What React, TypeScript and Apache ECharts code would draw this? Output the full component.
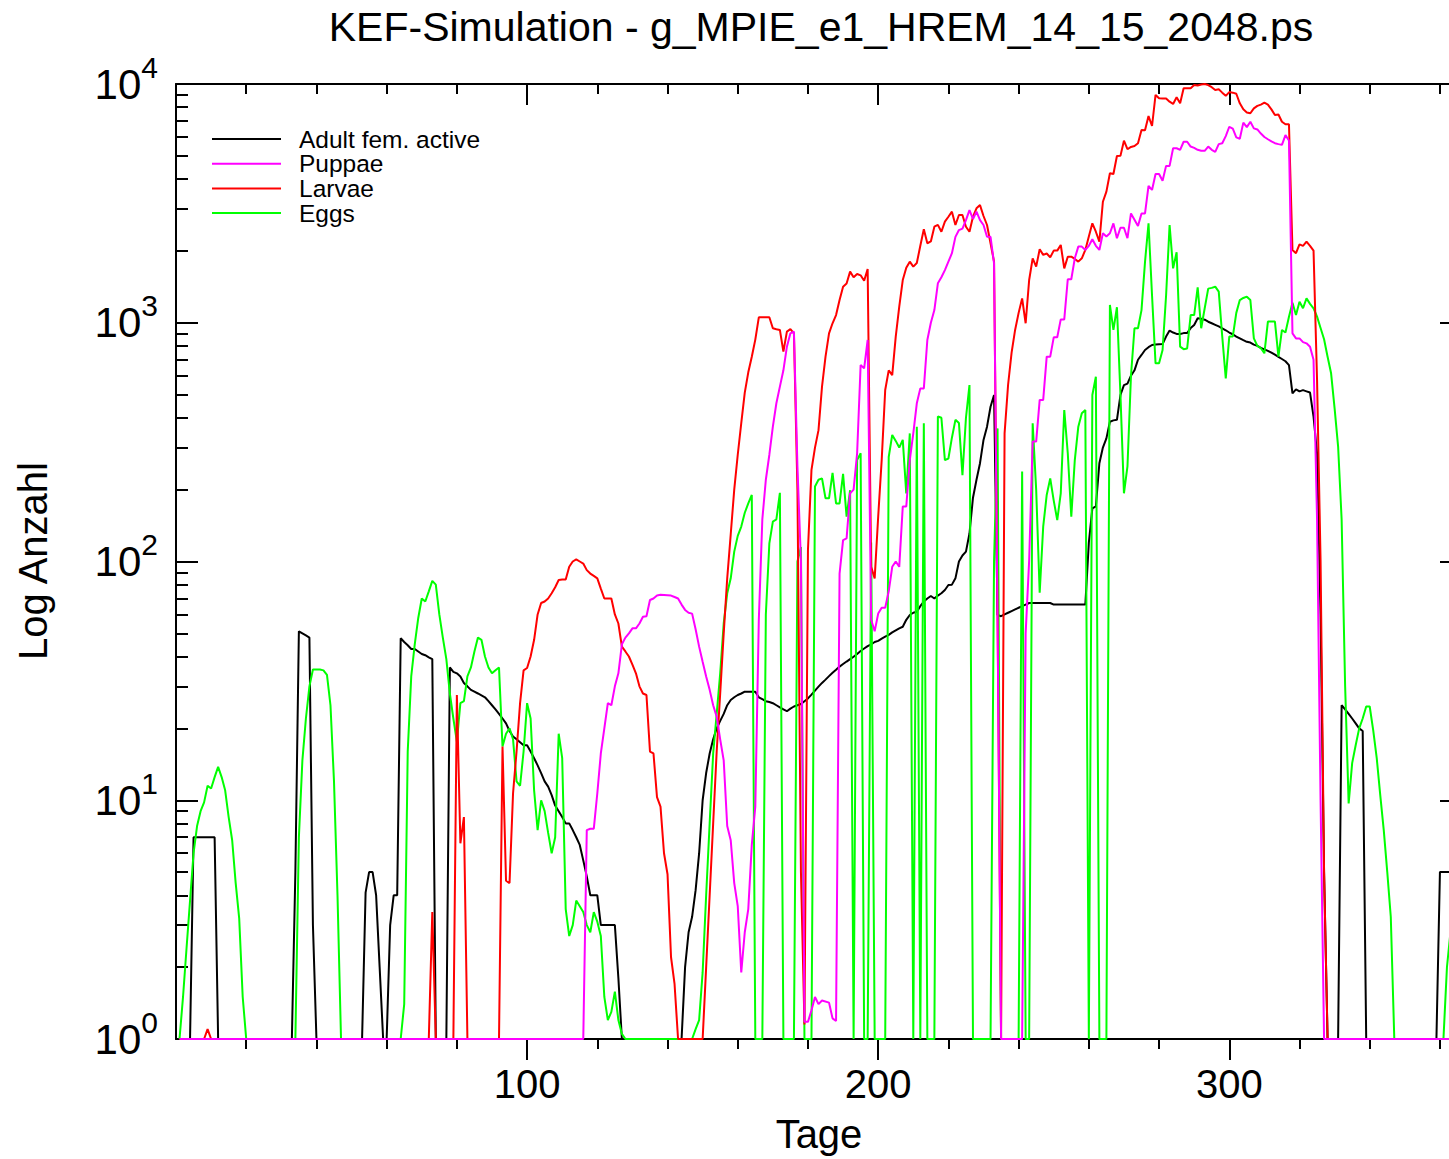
import React, { useEffect, useRef } from "react";
import * as echarts from "echarts";

const TITLE = "KEF-Simulation - g_MPIE_e1_HREM_14_15_2048.ps";
const X_AXIS_NAME = "Tage";
const Y_AXIS_NAME = "Log Anzahl";
const X_MIN = 0;
const X_MAX = 366;
const Y_MIN = 1;
const Y_MAX = 10000;
const X_MAJOR_TICKS = [100, 200, 300];
const X_MINOR_TICKS = [20, 40, 60, 80, 120, 140, 160, 180, 220, 240, 260, 280, 320, 340, 360];
const Y_MAJOR_TICKS = [1, 10, 100, 1000, 10000];
const Y_MINOR_TICKS = [
  2, 3, 4, 5, 6, 7, 8, 9,
  20, 30, 40, 50, 60, 70, 80, 90,
  200, 300, 400, 500, 600, 700, 800, 900,
  2000, 3000, 4000, 5000, 6000, 7000, 8000, 9000,
];

const SERIES_NAMES = ["Adult fem. active", "Puppae", "Larvae", "Eggs"];
const SERIES_COLORS: Record<string, string> = {
  "Adult fem. active": "#000000",
  Puppae: "#ff00ff",
  Larvae: "#ff0000",
  Eggs: "#00ff00",
};

// [day, count] ; count 1 = bottom of the log axis (no animals)
const adult: [number, number][] = [
  [1, 1], [4, 1], [5, 7], [11, 7], [12, 1], [33, 1], [34, 5], [35, 51], [36, 50], [37, 49], [38, 48], [39, 3], [40, 1],
  [53, 1], [54, 4.1], [55, 5], [56, 5], [57, 4], [58, 2], [59, 1], [60, 1], [61, 3], [62, 4], [63, 4], [64, 47.7],
  [65, 46], [66, 44.6], [67, 43], [68, 43], [69, 42], [70, 41], [71, 40.5], [72, 39.7], [73, 39], [74, 1], [77, 1],
  [78, 36], [79, 34.5], [80, 34], [81, 33], [82, 31], [83, 30], [84, 29], [85, 28.5], [86, 28], [87, 27.5], [88, 27],
  [89, 26], [90, 25], [91, 24], [92, 23], [93, 22], [94, 21], [95, 19.5], [96, 18.5], [97, 18], [98, 17.5], [99, 17],
  [100, 17], [101, 16], [102, 15], [103, 14], [104, 13], [105, 12], [106, 11.4], [107, 10.5], [108, 9.5], [109, 9],
  [110, 8.5], [111, 8], [112, 8], [113, 7.5], [114, 7], [115, 6.5], [116, 5.6], [117, 4.8], [118, 4], [120, 4], [121, 3],
  [125, 3], [126, 1.8], [127, 1], [144, 1], [145, 2], [146, 2.8], [147, 3.25], [148, 4.2], [149, 6], [150, 10], [151, 13],
  [152, 15.7], [153, 18], [154, 20], [155, 21.5], [156, 23], [157, 25], [158, 26.3], [159, 27], [160, 27.6], [161, 28],
  [162, 28.5], [165, 28.5], [166, 27], [167, 26.5], [168, 26], [169, 25.8], [170, 25.5], [171, 25], [172, 24.5], [173, 24],
  [174, 23.6], [175, 24.2], [176, 24.7], [177, 25], [178, 25.3], [179, 26], [180, 26.7], [181, 27.7], [182, 28.8],
  [183, 29.9], [184, 31], [185, 32], [186, 33.1], [187, 34.2], [188, 35.2], [189, 36.3], [190, 37.2], [191, 38.1], [192, 39],
  [193, 39.9], [194, 41], [195, 42.2], [196, 43.2], [197, 44.2], [198, 45], [199, 46], [200, 46.5], [201, 47.5], [202, 48.4],
  [203, 49.3], [204, 50.5], [205, 51.5], [206, 52.5], [207, 53.3], [208, 57], [209, 59.7], [210, 61], [211, 61.6], [212, 65],
  [213, 68], [214, 70], [215, 71.7], [216, 70], [217, 72], [218, 73.6], [219, 76], [220, 79.7], [221, 80], [222, 85],
  [223, 100], [224, 106], [225, 110], [226, 131], [227, 185], [228, 220], [229, 258], [230, 323], [231, 367], [232, 445],
  [233, 498], [234, 59.7], [235, 59], [236, 60], [237, 61], [238, 62], [239, 63], [240, 64], [241, 65], [242, 66], [243, 67],
  [249, 67], [250, 66], [259, 66], [260, 120], [261, 167], [262, 170], [263, 258], [264, 300], [265, 328], [266, 385],
  [267, 390], [268, 392], [269, 498], [270, 548], [271, 556], [272, 600], [273, 632], [274, 700], [275, 733], [276, 769],
  [277, 790], [278, 807], [279, 810], [281, 815], [282, 875], [283, 927], [284, 910], [285, 898], [286, 898], [287, 905],
  [288, 905], [289, 950], [290, 979], [291, 1045], [292, 1040], [293, 1030], [294, 1010], [295, 995], [296, 980], [297, 965],
  [298, 948], [299, 930], [300, 910], [301, 895], [302, 875], [303, 860], [304, 845], [305, 832], [306, 826], [307, 810],
  [308, 800], [309, 785], [310, 774], [311, 763], [312, 750], [313, 735], [314, 720], [315, 705], [316, 690], [317, 665],
  [318, 506], [319, 526], [320, 516], [321, 522], [322, 516], [323, 510], [324, 404], [325, 284], [326, 60], [327, 5],
  [328, 1], [331, 1], [332, 25], [333, 24], [334, 23], [335, 22], [336, 21], [337, 20], [338, 19.5], [339, 1], [359, 1],
  [360, 5], [363, 5],
];

const eggs: [number, number][] = [
  [1, 1], [2, 1.5], [3, 2.4], [4, 3.8], [5, 6], [6, 7.8], [7, 9], [8, 9.8], [9, 11.5], [10, 11.2], [11, 12.5], [12, 13.8],
  [13, 12.5], [14, 11], [15, 8.5], [16, 6.8], [17, 4.5], [18, 3.2], [19, 1.5], [20, 1], [34, 1], [35, 7], [36, 14.7],
  [37, 22], [38, 30], [39, 35.3], [41, 35.3], [42, 35], [43, 33.5], [44, 25], [45, 12], [46, 4], [47, 1], [64, 1],
  [65, 1.4], [66, 16], [67, 33], [68, 45], [69, 58], [70, 70], [71, 68], [72, 75], [73, 83], [74, 80], [75, 60], [76, 48],
  [77, 39], [78, 28], [79, 22], [80, 17.6], [81, 25.5], [82, 26], [83, 33], [84, 36], [85, 42], [86, 48], [87, 47],
  [88, 40], [89, 36], [90, 34], [91, 35], [92, 36], [93, 16.8], [94, 19], [95, 20], [96, 18], [97, 12], [98, 11.5],
  [99, 16], [100, 25.5], [101, 22], [102, 11], [103, 7.5], [104, 10], [105, 9], [106, 7.3], [107, 6], [108, 7], [109, 19],
  [110, 15], [111, 3.5], [112, 2.7], [113, 3], [114, 3.8], [115, 3.6], [116, 3.4], [117, 3], [118, 2.8], [119, 3.4],
  [120, 3.1], [121, 2.7], [122, 1.5], [123, 1.2], [124, 1.3], [125, 1.58], [126, 1.2], [127, 1.05], [128, 1], [147, 1],
  [148, 1.1], [149, 1.2], [150, 1.9], [151, 4], [152, 8], [153, 15.7], [154, 23], [155, 34], [156, 55], [157, 73.6],
  [158, 85], [159, 110], [160, 128], [161, 140], [162, 160], [163, 175], [164, 190], [165, 1], [167, 1], [168, 60],
  [169, 119], [170, 147], [171, 150], [172, 194], [173, 1], [176, 1], [177, 100], [178, 115], [179, 1], [181, 1],
  [182, 206], [183, 220], [184, 223], [185, 184], [186, 184], [187, 235], [188, 175], [189, 175], [190, 233], [191, 154],
  [192, 199], [193, 1], [194, 266], [195, 284], [196, 1], [197, 1], [198, 120], [199, 1], [202, 1], [203, 274], [204, 339],
  [205, 320], [206, 300], [207, 323], [208, 193], [209, 344], [210, 1], [211, 367], [212, 1], [213, 379], [214, 1],
  [216, 1], [217, 405], [218, 400], [219, 266], [220, 270], [221, 330], [222, 392], [223, 380], [224, 230], [225, 400],
  [226, 548], [227, 1], [232, 1], [233, 100], [234, 361], [235, 1], [240, 1], [241, 238], [242, 1], [243, 1], [244, 379],
  [245, 200], [246, 74], [247, 140], [248, 190], [249, 223], [250, 180], [251, 149], [252, 193], [253, 431], [254, 284],
  [255, 154], [256, 266], [257, 367], [258, 418], [259, 431], [260, 1], [261, 498], [262, 594], [263, 1], [265, 1],
  [266, 1187], [267, 933], [268, 1161], [269, 500], [270, 193], [271, 250], [272, 600], [273, 948], [274, 948],
  [275, 1130], [276, 1800], [277, 2608], [278, 1300], [279, 676], [280, 676], [281, 769], [282, 1300], [283, 2567],
  [284, 1690], [285, 1975], [286, 794], [287, 775], [288, 780], [289, 1077], [290, 1077], [291, 1407], [292, 948],
  [293, 1150], [294, 1390], [295, 1400], [296, 1416], [297, 1350], [298, 875], [299, 585], [300, 875], [301, 875],
  [302, 1100], [303, 1245], [304, 1270], [305, 1286], [306, 1245], [307, 860], [308, 800], [309, 782], [310, 745],
  [311, 1011], [313, 1011], [314, 721], [315, 933], [316, 910], [317, 1060], [318, 1213], [319, 1077], [320, 1225],
  [321, 1150], [322, 1265], [323, 1200], [324, 1150], [325, 1061], [326, 950], [327, 853], [328, 720], [329, 614],
  [330, 438], [331, 303], [332, 150], [333, 30], [334, 9.7], [335, 14.3], [336, 17], [337, 20], [338, 22], [339, 24.7],
  [340, 24.7], [341, 19.6], [342, 15], [343, 10.5], [344, 7.5], [345, 5], [346, 3.25], [347, 1], [361, 1], [362, 2],
  [363, 2.8],
];

const larvae: [number, number][] = [
  [1, 1], [8, 1], [9, 1.1], [10, 1], [72, 1], [73, 3.4], [74, 1], [79, 1], [80, 27.6], [81, 6.6], [82, 8.5], [83, 1],
  [92, 1], [93, 16.8], [94, 4.6], [95, 4.5], [96, 10.7], [97, 16], [98, 25.5], [99, 35], [100, 35.8], [101, 40], [102, 47],
  [103, 60], [104, 67], [105, 68], [106, 70], [107, 73.6], [108, 78], [109, 83.7], [110, 84], [111, 84], [112, 95],
  [113, 100], [114, 102], [115, 100], [116, 98], [117, 92], [118, 89], [119, 87], [120, 85], [121, 77], [122, 70],
  [123, 70], [124, 70], [125, 60], [126, 55], [127, 44], [128, 42], [129, 40], [130, 37], [131, 34], [132, 30], [133, 28],
  [134, 27.6], [135, 16], [136, 15.7], [137, 10.3], [138, 9.4], [139, 6], [140, 4.9], [141, 2.2], [142, 1.7], [143, 1],
  [150, 1], [151, 2], [152, 4], [153, 8], [154, 16], [155, 28], [156, 50], [157, 85], [158, 130], [159, 200], [160, 280],
  [161, 380], [162, 510], [163, 620], [164, 720], [165, 850], [166, 1054], [169, 1054], [170, 948], [171, 940], [172, 933],
  [173, 757], [174, 918], [175, 940], [176, 903], [177, 200], [178, 5], [179, 1.15], [180, 112], [181, 242], [182, 300],
  [183, 355], [184, 540], [185, 721], [186, 903], [187, 995], [188, 1077], [189, 1245], [190, 1416], [191, 1460],
  [192, 1637], [193, 1550], [194, 1600], [195, 1580], [196, 1500], [197, 1680], [198, 95], [199, 85], [200, 154],
  [201, 266], [202, 523], [203, 632], [204, 603], [205, 875], [206, 1167], [207, 1510], [208, 1700], [209, 1803],
  [210, 1718], [211, 1780], [212, 2100], [213, 2462], [214, 2153], [215, 2190], [216, 2525], [217, 2570], [218, 2406],
  [219, 2650], [220, 2780], [221, 2920], [222, 2567], [223, 2826], [224, 2826], [225, 2525], [226, 2406], [227, 2780],
  [228, 3015], [229, 3110], [230, 2800], [231, 2567], [232, 2153], [233, 1803], [234, 60], [235, 1], [236, 344],
  [237, 550], [238, 750], [239, 933], [240, 1100], [241, 1265], [242, 995], [243, 1510], [244, 1862], [245, 1718],
  [246, 2031], [247, 1924], [248, 1950], [249, 1880], [250, 2005], [251, 2005], [252, 2117], [253, 1690], [254, 1891],
  [255, 1891], [256, 1850], [257, 1803], [258, 1862], [259, 2018], [260, 2300], [261, 2608], [262, 2406], [263, 2185],
  [264, 3213], [265, 3540], [266, 4227], [267, 4200], [268, 4991], [269, 5000], [270, 5790], [271, 5330], [272, 5450],
  [273, 5500], [274, 5650], [275, 6416], [276, 6400], [277, 7340], [278, 6670], [279, 9000], [280, 8710], [281, 8700],
  [282, 8700], [283, 8430], [284, 8250], [285, 8800], [286, 8300], [287, 9600], [288, 9600], [289, 9600], [290, 9900],
  [291, 9850], [292, 9950], [293, 10000], [294, 9900], [295, 9700], [296, 9440], [297, 9500], [298, 9200], [299, 8920],
  [300, 9250], [301, 9200], [302, 9100], [303, 8300], [304, 7830], [305, 7600], [306, 7540], [307, 7910], [308, 8100],
  [309, 8200], [310, 8350], [311, 8200], [312, 7830], [313, 7420], [314, 7450], [315, 6950], [316, 6780], [317, 6780],
  [318, 2018], [319, 1955], [320, 2130], [321, 2100], [322, 2185], [323, 2100], [324, 2005], [325, 575], [326, 101],
  [327, 5], [328, 1], [363, 1],
];

const puppae: [number, number][] = [
  [1, 1], [116, 1], [117, 7.5], [118, 7.6], [119, 7.6], [120, 10.7], [121, 15.7], [122, 20], [123, 25.5], [124, 25],
  [125, 30], [126, 34], [127, 45], [128, 48], [129, 50], [130, 52.5], [131, 52.5], [132, 55], [133, 58.7], [134, 59],
  [135, 69], [136, 70], [137, 72], [138, 72.5], [141, 72], [142, 71], [143, 70], [144, 66], [145, 62.7], [146, 61],
  [147, 60.5], [148, 52], [149, 44], [150, 38], [151, 33], [152, 29], [153, 25], [154, 22.4], [155, 18], [156, 14.7],
  [157, 7.8], [158, 6.8], [159, 4.5], [160, 3.6], [161, 1.9], [162, 2.8], [163, 3.5], [164, 6.5], [165, 9.4], [166, 57],
  [167, 150], [168, 220], [169, 280], [170, 367], [171, 460], [172, 540], [173, 632], [174, 794], [175, 903], [176, 918],
  [177, 250], [178, 100], [179, 1.18], [180, 1.18], [181, 1.32], [182, 1.5], [183, 1.4], [184, 1.45], [186, 1.42],
  [187, 1.22], [188, 1.19], [189, 89], [190, 123], [191, 125], [192, 193], [193, 200], [194, 284], [195, 665], [196, 644],
  [197, 847], [198, 57], [199, 51], [200, 60.5], [201, 64], [202, 64], [203, 75], [204, 95], [205, 100], [206, 95],
  [207, 170], [208, 170], [209, 266], [210, 344], [211, 460], [212, 531], [213, 531], [214, 847], [215, 1000], [216, 1130],
  [217, 1463], [218, 1550], [219, 1662], [220, 1803], [221, 1955], [222, 2290], [223, 2445], [224, 2480], [225, 2690],
  [226, 2965], [227, 2720], [228, 2920], [229, 2690], [230, 2567], [231, 2290], [232, 2290], [233, 1774], [234, 57],
  [235, 1], [241, 1], [242, 50], [243, 101], [244, 318], [245, 318], [246, 475], [247, 475], [248, 721], [249, 721],
  [250, 869], [251, 869], [252, 1033], [253, 1033], [254, 1521], [255, 1521], [256, 1862], [257, 2084], [258, 2084],
  [259, 2018], [260, 2100], [261, 2238], [262, 2100], [263, 2018], [264, 2370], [265, 2300], [266, 2370], [267, 2608],
  [268, 2260], [269, 2500], [270, 2500], [271, 2260], [272, 2870], [273, 2700], [274, 2540], [275, 2870], [276, 2870],
  [277, 3740], [278, 3600], [279, 4200], [280, 4200], [281, 3935], [282, 4540], [283, 4540], [284, 5380], [285, 5380],
  [286, 5300], [287, 5730], [288, 5730], [289, 5470], [290, 5400], [291, 5300], [292, 5250], [293, 5250], [294, 5470],
  [295, 5300], [296, 5200], [297, 5600], [298, 5650], [299, 6050], [300, 6620], [301, 6500], [302, 5980], [303, 5900],
  [304, 6890], [305, 6600], [306, 6950], [307, 6520], [308, 6450], [309, 6200], [310, 6000], [311, 5870], [312, 5750],
  [313, 5650], [314, 5600], [315, 5560], [316, 6110], [317, 5800], [318, 903], [319, 860], [320, 860], [321, 830],
  [322, 820], [323, 794], [324, 700], [325, 150], [326, 10], [327, 1], [363, 1],
];

const SERIES_DATA: Record<string, [number, number][]> = {
  "Adult fem. active": adult,
  Puppae: puppae,
  Larvae: larvae,
  Eggs: eggs,
};
// drawing order (last on top)
const DRAW_ORDER = ["Adult fem. active", "Eggs", "Larvae", "Puppae"];

const FONT = "'Liberation Sans', Arial, Helvetica, sans-serif";
const BLACK = "#000000";

function App() {
  const ref = useRef<HTMLDivElement | null>(null);

  useEffect(() => {
    if (!ref.current) return;
    const chart = echarts.init(ref.current, undefined, { renderer: "svg" });

    const tickStyle = { color: BLACK, width: 2 };
    const hiddenLabel = { show: false };
    const noSplit = { show: false };

    const xBase = { type: "value", min: X_MIN, max: X_MAX, splitLine: noSplit, gridIndex: 0 };
    const yBase = { type: "log", logBase: 10, min: Y_MIN, max: Y_MAX, splitLine: noSplit, gridIndex: 0 };

    const xAxes: any[] = [
      {
        ...xBase,
        position: "bottom",
        axisLine: { show: true, onZero: false, lineStyle: { color: BLACK, width: 2 } },
        axisTick: { show: true, inside: false, length: 21, customValues: X_MAJOR_TICKS, lineStyle: tickStyle },
        axisLabel: {
          show: true,
          customValues: X_MAJOR_TICKS,
          color: BLACK,
          fontSize: 40,
          fontFamily: FONT,
          margin: 25,
          formatter: (v: number) => String(v),
        },
      },
      {
        ...xBase,
        position: "bottom",
        axisLine: { show: false, onZero: false },
        axisTick: { show: true, inside: false, length: 10, customValues: X_MINOR_TICKS, lineStyle: tickStyle },
        axisLabel: hiddenLabel,
      },
      {
        ...xBase,
        position: "top",
        axisLine: { show: true, onZero: false, lineStyle: { color: BLACK, width: 2 } },
        axisTick: { show: true, inside: true, length: 21, customValues: X_MAJOR_TICKS, lineStyle: tickStyle },
        axisLabel: hiddenLabel,
      },
      {
        ...xBase,
        position: "top",
        axisLine: { show: false, onZero: false },
        axisTick: { show: true, inside: true, length: 10, customValues: X_MINOR_TICKS, lineStyle: tickStyle },
        axisLabel: hiddenLabel,
      },
    ];

    const yAxes: any[] = [
      {
        ...yBase,
        position: "left",
        axisLine: { show: true, onZero: false, lineStyle: { color: BLACK, width: 2 } },
        axisTick: { show: true, inside: true, length: 22, customValues: Y_MAJOR_TICKS, lineStyle: tickStyle },
        axisLabel: {
          show: true,
          customValues: Y_MAJOR_TICKS,
          margin: 18,
          color: BLACK,
          fontFamily: FONT,
          formatter: (v: number) => `{b|10}{s|${Math.round(Math.log10(v))}}`,
          rich: {
            b: { fontSize: 42, fontFamily: FONT, color: BLACK, verticalAlign: "middle" },
            s: { fontSize: 30, fontFamily: FONT, color: BLACK, verticalAlign: "middle", padding: [0, 0, 34, 0] },
          },
        },
      },
      {
        ...yBase,
        position: "left",
        axisLine: { show: false, onZero: false },
        axisTick: { show: true, inside: true, length: 12, customValues: Y_MINOR_TICKS, lineStyle: tickStyle },
        axisLabel: hiddenLabel,
      },
      {
        ...yBase,
        position: "right",
        axisLine: { show: true, onZero: false, lineStyle: { color: BLACK, width: 2 } },
        axisTick: { show: true, inside: true, length: 21, customValues: Y_MAJOR_TICKS, lineStyle: tickStyle },
        axisLabel: hiddenLabel,
      },
      {
        ...yBase,
        position: "right",
        axisLine: { show: false, onZero: false },
        axisTick: { show: true, inside: true, length: 12, customValues: Y_MINOR_TICKS, lineStyle: tickStyle },
        axisLabel: hiddenLabel,
      },
    ];

    const series = DRAW_ORDER.map((name) => ({
      name,
      type: "line",
      xAxisIndex: 0,
      yAxisIndex: 0,
      data: SERIES_DATA[name],
      showSymbol: false,
      symbol: "none",
      clip: true,
      silent: true,
      lineStyle: { color: SERIES_COLORS[name], width: 2 },
      itemStyle: { color: SERIES_COLORS[name] },
      emphasis: { disabled: true },
    }));

    const legendGraphics: any[] = [];
    SERIES_NAMES.forEach((name, i) => {
      const y = 139 + i * 24.7;
      legendGraphics.push({
        type: "line",
        shape: { x1: 212, y1: y, x2: 281, y2: y },
        style: { stroke: SERIES_COLORS[name], lineWidth: 2 },
        silent: true,
      });
      legendGraphics.push({
        type: "text",
        x: 299,
        y: y,
        style: { text: name, fontSize: 24.5, fontFamily: FONT, fill: BLACK, align: "left", verticalAlign: "middle" },
        silent: true,
      });
    });

    const option: any = {
      animation: false,
      backgroundColor: "#ffffff",
      grid: { left: 176, right: 9, top: 84, bottom: 120, containLabel: false, outerBoundsMode: "none" },
      xAxis: xAxes,
      yAxis: yAxes,
      series,
      graphic: [
        {
          type: "text",
          x: 821,
          y: 27,
          style: { text: TITLE, fontSize: 41, fontFamily: FONT, fill: BLACK, align: "center", verticalAlign: "middle" },
          silent: true,
        },
        {
          type: "text",
          x: 819,
          y: 1134,
          style: { text: X_AXIS_NAME, fontSize: 40, fontFamily: FONT, fill: BLACK, align: "center", verticalAlign: "middle" },
          silent: true,
        },
        {
          type: "text",
          x: 33,
          y: 561,
          rotation: Math.PI / 2,
          style: { text: Y_AXIS_NAME, fontSize: 40, fontFamily: FONT, fill: BLACK, align: "center", verticalAlign: "middle" },
          silent: true,
        },
        ...legendGraphics,
      ],
    };

    chart.setOption(option);
    return () => {
      chart.dispose();
    };
  }, []);

  return (
    <div
      style={{
        position: "fixed",
        left: 0,
        top: 0,
        width: 1449,
        height: 1159,
        overflow: "hidden",
        background: "#ffffff",
      }}
    >
      <div ref={ref} style={{ width: 1470, height: 1159 }} />
    </div>
  );
}

export default App;
